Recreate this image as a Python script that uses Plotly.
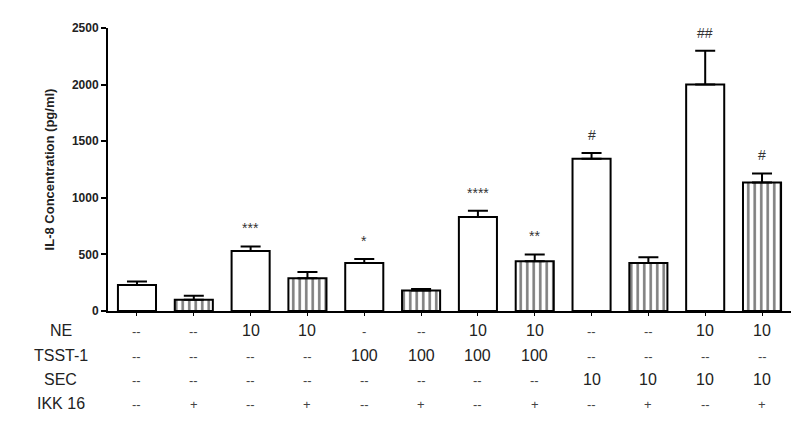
import plotly.graph_objects as go

groups = list(range(12))
il8 = [230, 100, 530, 290, 425, 180, 830, 440, 1345, 425, 2000, 1135]
sem = [30, 35, 40, 55, 35, 15, 55, 60, 50, 50, 300, 80]
hatched = [False, True, False, True, False, True, False, True, False, True, False, True]
marks = ["", "", "***", "", "*", "", "****", "**", "#", "", "##", "#"]

row_names = ["NE", "TSST-1", "SEC", "IKK 16"]
ne = ["--", "--", "10", "10", "-", "--", "10", "10", "--", "--", "10", "10"]
tsst = ["--", "--", "--", "--", "100", "100", "100", "100", "--", "--", "--", "--"]
sec = ["--", "--", "--", "--", "--", "--", "--", "--", "10", "10", "10", "10"]
ikk = ["--", "+", "--", "+", "--", "+", "--", "+", "--", "+", "--", "+"]
rows = [ne, tsst, sec, ikk]

fig = go.Figure()
fig.add_trace(go.Bar(
    x=groups, y=il8, width=0.67,
    marker=dict(color="white", line=dict(color="black", width=2),
                pattern=dict(shape=["|" if h else "" for h in hatched],
                             fgcolor="black", bgcolor="white", size=6.5, solidity=0.4)),
    error_y=dict(type="data", array=sem, arrayminus=[0] * 12, symmetric=False,
                 color="black", thickness=2, width=10),
))

# significance marks
for g, v, e, m in zip(groups, il8, sem, marks):
    if m:
        fig.add_annotation(x=g, y=v + e, text=m, showarrow=False, yshift=18,
                           font=dict(family="Arial", size=14, color="#333"))

# condition table under the axis
row_y = [-0.106, -0.194, -0.279, -0.364]
for name, vals, ry in zip(row_names, rows, row_y):
    fig.add_annotation(x=-0.069, xref="paper", y=ry, yref="paper", text=name,
                       xanchor="center", showarrow=False,
                       font=dict(family="Arial", size=16, color="#222"))
    for g, t in zip(groups, vals):
        fig.add_annotation(x=g, y=ry, yref="paper", text=t, showarrow=False,
                           font=dict(family="Arial", size=16 if t[0].isdigit() else 13,
                                     color="#222" if t[0].isdigit() else "#444"))

fig.update_layout(
    width=800, height=427, plot_bgcolor="white", paper_bgcolor="white",
    margin=dict(l=100, r=17, t=20, b=124), showlegend=False,
    xaxis=dict(range=[-0.51, 11.51], tickvals=groups, ticktext=[""] * 12,
               ticks="outside", ticklen=3, tickcolor="black", showline=True,
               linecolor="black", linewidth=2, showgrid=False, zeroline=False),
    yaxis=dict(range=[0, 2500], tickvals=[0, 500, 1000, 1500, 2000, 2500],
               ticks="outside", ticklen=5, tickwidth=2, tickcolor="black",
               showline=True, linecolor="black", linewidth=2, showgrid=False,
               zeroline=False,
               tickfont=dict(family="Arial", size=12, color="#222", weight="bold"),
               title=dict(text="<b>IL-8 Concentration (pg/ml)</b>",
                          font=dict(family="Arial", size=13, color="#222"), standoff=14)),
)

fig.write_html("out.html")
